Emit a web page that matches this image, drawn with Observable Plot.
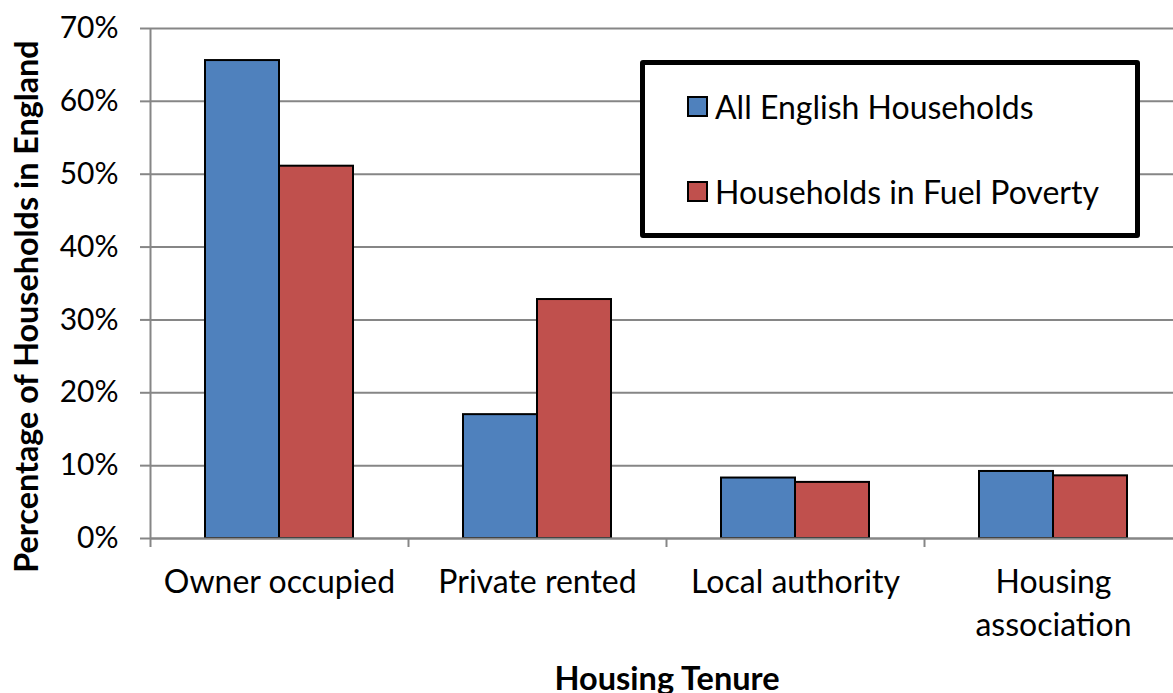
<!DOCTYPE html>
<html>
<head>
<meta charset="utf-8">
<script src="https://cdn.jsdelivr.net/npm/d3@7"></script>
<script src="https://cdn.jsdelivr.net/npm/@observablehq/plot@0.6"></script>
<style>
  html, body { margin: 0; padding: 0; background: #fff; overflow: hidden; }
  #wrap { position: relative; width: 1173px; height: 693px; font-family: Lato, "Open Sans", sans-serif; }
  #legend { position: absolute; left: 640px; top: 60px; width: 490px; height: 168px; border: 5px solid #000; border-radius: 3px; background: #fff; box-sizing: content-box; }
  .item { position: absolute; left: 42px; display: flex; align-items: center; font-size: 32px; color: #000; white-space: nowrap; }
  .sw { width: 17px; height: 17px; border: 2px solid #000; margin-right: 7px; }
</style>
</head>
<body>
<div id="wrap"></div>
<script>
const categories = ["Owner occupied", "Private rented", "Local authority", "Housing association"];
const seriesNames = ["All English Households", "Households in Fuel Poverty"];
const allHouseholds = [65.6, 17.0, 8.3, 9.2];
const fuelPoverty = [51.1, 32.8, 7.7, 8.6];
const yTicks = [0, 10, 20, 30, 40, 50, 60, 70];
const colors = ["#4F81BD", "#C0504D"];

const rows = categories.flatMap((c, i) => [
  {category: c, series: seriesNames[0], value: allHouseholds[i]},
  {category: c, series: seriesNames[1], value: fuelPoverty[i]}
]);

const font = "Lato, 'Open Sans', sans-serif";
const gridColor = "#868686";

const chart = Plot.plot({
  width: 1173,
  height: 693,
  marginLeft: 150,
  marginRight: 0,
  marginTop: 28,
  marginBottom: 155,
  style: {fontFamily: font, background: "white", color: "black"},
  x: {type: "band", domain: categories, range: [150, 1182], padding: 0, axis: null},
  y: {domain: [0, 70], range: [538, 28]},
  color: {domain: seriesNames, range: colors},
  marks: [
    Plot.gridY(yTicks, {stroke: gridColor, strokeOpacity: 1, strokeWidth: 2}),
    Plot.axisY(yTicks, {
      tickSize: 10, tickPadding: 22, stroke: gridColor, strokeWidth: 2,
      tickFormat: d => d + "%", fontSize: 30, label: null
    }),
    Plot.ruleX(categories, {x: d => d, dx: -129, y1: 0, y2: 0, insetBottom: -9, stroke: gridColor, strokeWidth: 2}),
    Plot.ruleX(categories.slice(0, 1), {x: d => d, dx: -129, stroke: gridColor, strokeWidth: 2}),
    Plot.barY(rows.filter(d => d.series === seriesNames[0]), {
      x: "category", y: "value", fill: "series", stroke: "black", strokeWidth: 2,
      insetLeft: 55, insetRight: 129
    }),
    Plot.barY(rows.filter(d => d.series === seriesNames[1]), {
      x: "category", y: "value", fill: "series", stroke: "black", strokeWidth: 2,
      insetLeft: 129, insetRight: 55
    }),
    Plot.ruleY([0], {stroke: gridColor, strokeWidth: 2}),
    Plot.text(categories, {
      x: d => d, frameAnchor: "bottom", lineAnchor: "top", dy: 24,
      fontSize: 32, lineWidth: 8, lineHeight: 1.35, fill: "black"
    }),
    Plot.text(["Percentage of Households in England"], {
      frameAnchor: "left", textAnchor: "middle", rotate: -90, dx: -123, dy: 23,
      fontSize: 32.3, fontWeight: "bold", fill: "black"
    }),
    Plot.text(["Housing Tenure"], {
      frameAnchor: "bottom", dx: 5, dy: 151,
      fontSize: 32.5, fontWeight: "bold", fill: "black"
    })
  ]
});

const wrap = document.getElementById("wrap");
wrap.appendChild(chart);

const legend = document.createElement("div");
legend.id = "legend";
seriesNames.forEach((name, i) => {
  const item = document.createElement("div");
  item.className = "item";
  item.style.top = (i === 0 ? 22 : 107) + "px";
  const sw = document.createElement("span");
  sw.className = "sw";
  sw.style.background = colors[i];
  const label = document.createElement("span");
  label.textContent = name;
  item.appendChild(sw);
  item.appendChild(label);
  legend.appendChild(item);
});
wrap.appendChild(legend);
</script>
</body>
</html>
